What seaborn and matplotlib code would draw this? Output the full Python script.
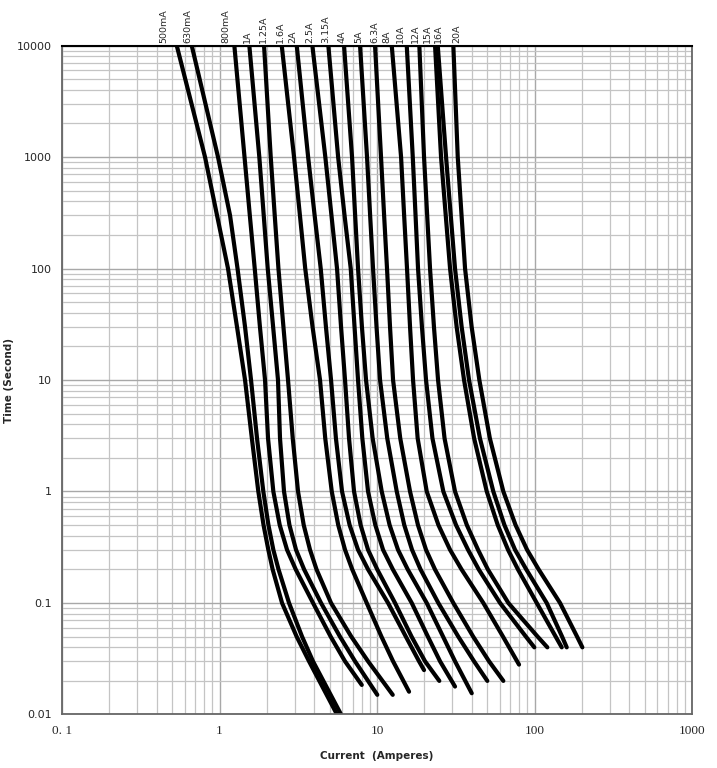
import matplotlib
matplotlib.use("Agg")
import numpy as np
import pandas as pd
import matplotlib.pyplot as plt
import seaborn as sns
from matplotlib.ticker import LogLocator, FixedLocator, FixedFormatter, NullFormatter

# fuse ratings, as printed above the chart
ratings = ["500mA", "630mA", "800mA", "1A", "1.25A", "1.6A", "2A", "2.5A", "3.15A",
           "4A", "5A", "6.3A", "8A", "10A", "12A", "15A", "16A", "20A"]

# times (s) at which the curves were read; each curve also has its own end point
times = [10000, 1000, 300, 100, 30, 10, 3, 1, 0.5, 0.3, 0.2, 0.1, 0.05, 0.03]

# current (A) on each curve at those times, last value = end of the curve
curr_500mA = [0.535, 0.809, 0.964, 1.132, 1.291, 1.452, 1.604, 1.763, 1.903, 2.041, 2.174, 2.494, 3.087, 3.70, 5.57]
curr_630mA = [0.666, 0.978, 1.166, 1.301, 1.452, 1.585, 1.730, 1.897, 2.044, 2.196, 2.369, 2.763, 3.341, 3.92, 5.91]
curr_800mA = [1.242, 1.441, 1.557, 1.673, 1.805, 1.945, 2.032, 2.196, 2.411, 2.683, 3.047, 3.924, 5.075, 6.26, 8.00]
curr_1A = [1.546, 1.789, 1.908, 2.023, 2.189, 2.351, 2.421, 2.567, 2.779, 3.060, 3.444, 4.410, 5.813, 7.25, 10.04]
curr_1_25A = [1.917, 2.114, 2.241, 2.366, 2.545, 2.722, 2.916, 3.151, 3.424, 3.754, 4.129, 5.105, 6.858, 8.77, 12.58]
curr_1_6A = [2.483, 2.972, 3.239, 3.500, 3.895, 4.346, 4.690, 5.159, 5.671, 6.263, 6.959, 8.601, 10.66, 12.64, 15.97]
curr_2A = [3.092, 3.652, 4.016, 4.390, 4.738, 5.105, 5.483, 5.995, 6.699, 7.575, 8.768, 11.75, 15.23, 18.48, 19.88]
curr_2_5A = [3.884, 4.696, 5.136, 5.572, 5.908, 6.263, 6.641, 7.145, 7.867, 8.768, 10.03, 13.01, 16.56, 20.17, 24.86]
curr_3_15A = [4.907, 5.662, 6.218, 6.808, 7.197, 7.575, 8.066, 8.768, 9.755, 10.92, 12.60, 16.61, 21.02, 25.12, 31.27]
curr_4A = [6.173, 6.939, 7.261, 7.575, 8.018, 8.515, 9.378, 10.71, 12.02, 13.59, 15.66, 20.68, 26.24, 31.27, 39.93]
curr_5A = [7.800, 8.639, 9.040, 9.432, 9.927, 10.45, 11.61, 13.34, 14.89, 16.68, 18.89, 24.50, 32.78, 41.29, 50.15]
curr_6_3A = [9.712, 10.60, 11.09, 11.57, 12.09, 12.64, 14.04, 16.20, 18.19, 20.47, 23.32, 30.51, 40.75, 51.41, 63.38]
curr_8A = [12.40, 14.21, 14.86, 15.50, 16.20, 16.93, 18.11, 20.68, 24.54, 29.08, 34.40, 47.31, 63.01, 79.71]
curr_10A = [15.44, 16.86, 17.56, 18.21, 19.28, 20.47, 22.48, 26.36, 31.74, 37.83, 44.23, 60.39, 88.06, 99.70]
curr_12A = [18.56, 19.88, 20.81, 21.70, 22.98, 24.40, 26.83, 31.27, 37.17, 43.79, 50.52, 68.19, 104.5, 120.6]
curr_15A = [23.35, 25.49, 27.30, 29.08, 32.02, 35.68, 41.35, 49.73, 58.41, 67.88, 78.46, 103.3, 136.1, 148.8]
curr_16A = [24.29, 27.43, 29.37, 31.27, 34.45, 38.38, 45.01, 54.74, 64.40, 75.20, 88.59, 119.5, 149.5, 160.1]
curr_20A = [30.51, 32.54, 34.40, 36.21, 39.87, 44.63, 52.03, 63.38, 75.77, 89.65, 106.2, 145.2, 186.1, 201.2]

# time at which each curve stops
end_times = [0.01, 0.01, 0.0184, 0.015, 0.015, 0.016, 0.025, 0.020, 0.0178,
             0.0155, 0.020, 0.020, 0.028, 0.04, 0.04, 0.04, 0.04, 0.04]

currents = [curr_500mA, curr_630mA, curr_800mA, curr_1A, curr_1_25A, curr_1_6A, curr_2A,
            curr_2_5A, curr_3_15A, curr_4A, curr_5A, curr_6_3A, curr_8A, curr_10A,
            curr_12A, curr_15A, curr_16A, curr_20A]

# where each rating label sits along the top edge (current axis)
label_at = [0.444, 0.626, 1.10, 1.506, 1.89, 2.42, 2.93, 3.73, 4.75,
            5.95, 7.69, 9.71, 11.49, 14.0, 17.43, 20.9, 24.6, 32.2]

rows = []
for name, cur, t_end in zip(ratings, currents, end_times):
    ts = times[:len(cur) - 1] + [t_end]
    for c, t in zip(cur, ts):
        rows.append({"fuse": name, "current": c, "time": t})
df = pd.DataFrame(rows)

sns.set_style("white")
plt.rcParams["font.family"] = ["DejaVu Sans"]

fig = plt.figure(figsize=(7.17, 7.68), dpi=100)
ax = fig.add_axes([0.0865, 0.0697, 0.8787, 0.871])

ax.set_xscale("log")
ax.set_yscale("log")
ax.set_xlim(0.1, 1000)
ax.set_ylim(0.01, 10000)

sns.lineplot(data=df, x="current", y="time", units="fuse", estimator=None, sort=False,
             color="black", lw=3.0, ax=ax, legend=False)
for ln in ax.get_lines():
    ln.set_solid_joinstyle("round")
    ln.set_solid_capstyle("round")

ax.xaxis.set_minor_locator(LogLocator(base=10, subs=np.arange(2, 10), numticks=20))
ax.yaxis.set_minor_locator(LogLocator(base=10, subs=np.arange(2, 10), numticks=20))
ax.xaxis.set_minor_formatter(NullFormatter())
ax.yaxis.set_minor_formatter(NullFormatter())

xt = [0.1, 1, 10, 100, 1000]
ax.xaxis.set_major_locator(FixedLocator(xt))
ax.xaxis.set_major_formatter(FixedFormatter(["0. 1", "1", "10", "100", "1000"]))
yt = [0.01, 0.1, 1, 10, 100, 1000, 10000]
ax.yaxis.set_major_locator(FixedLocator(yt))
ax.yaxis.set_major_formatter(FixedFormatter(["0.01", "0.1", "1", "10", "100", "1000", "10000"]))

ax.grid(True, which="major", color="#a8a8a8", lw=1.0)
ax.grid(True, which="minor", color="#c4c4c4", lw=0.9)
ax.set_axisbelow(True)

ax.tick_params(axis="both", which="major", length=4, width=0.8, color="#888888")
ax.tick_params(axis="both", which="minor", length=0)
for lab in ax.get_xticklabels():
    lab.set_fontfamily("Liberation Serif")
    lab.set_fontsize(9.5)
for lab in ax.get_yticklabels():
    lab.set_fontsize(8)

for side in ["left", "bottom", "right"]:
    ax.spines[side].set_color("#666666")
    ax.spines[side].set_linewidth(1.3)
ax.spines["top"].set_color("black")
ax.spines["top"].set_linewidth(1.5)

ax.set_xlabel("Current  (Amperes)", fontsize=7.5, fontweight="bold", labelpad=10)
ax.set_ylabel("Time (Second)", fontsize=7.5, fontweight="bold", labelpad=2)

# rating labels along the top edge
for name, xpos in zip(ratings, label_at):
    ax.annotate(name, xy=(xpos, 10000), xytext=(0, 2), textcoords="offset points",
                rotation=90, ha="center", va="bottom", fontsize=6.8)

fig.savefig("out.png", dpi=100)
